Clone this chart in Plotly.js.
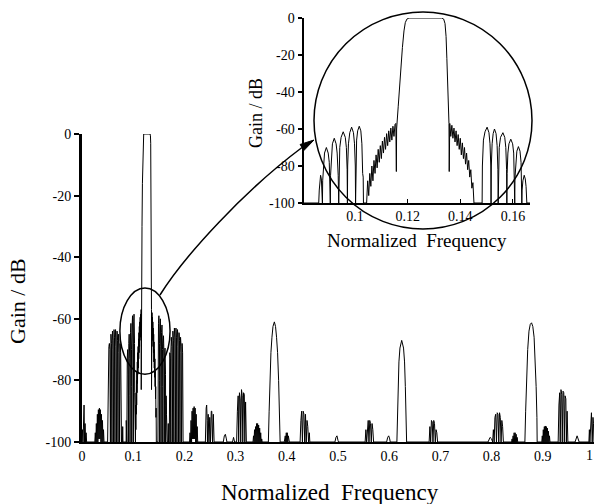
<!DOCTYPE html>
<html>
<head>
<meta charset="utf-8">
<script src="https://cdn.plot.ly/plotly-3.0.1.min.js"></script>
<style>html,body{margin:0;padding:0;background:#fff;}#chart{width:596px;height:504px;}</style>
</head>
<body>
<div id="chart"></div>
<script>
// ---- data: [normalized frequency, gain dB] ----
const lowBand = [
 [0,-100],[0.001,-96],[0.002,-100],[0.003,-93],[0.004,-88],[0.005,-100],[0.006,-94],[0.007,-100],[0.008,-97],[0.009,-100],
 [0.025,-100],[0.026,-97],[0.027,-100],[0.028,-94],[0.029,-100],[0.030,-91],[0.031,-100],[0.032,-89.5],[0.033,-99],[0.034,-89],
 [0.035,-99],[0.036,-89.5],[0.037,-100],[0.038,-91],[0.039,-100],[0.040,-93],[0.041,-100],[0.042,-96],[0.043,-100],
 [0.050,-100],[0.051,-75],[0.0525,-69],[0.0535,-68],[0.0545,-70],[0.0555,-100],[0.0556,-72],[0.0565,-65],[0.0575,-68],[0.0585,-100],
 [0.0586,-70],[0.0595,-64],[0.0605,-67],[0.0614,-100],[0.0615,-70],[0.0625,-63.5],[0.0635,-66],[0.0644,-100],[0.0645,-69],
 [0.0655,-63.5],[0.0665,-66],[0.0674,-100],[0.0675,-70],[0.0685,-64],[0.0695,-67],[0.0704,-100],[0.0705,-71],[0.0715,-65],
 [0.0725,-68],[0.0734,-100],[0.0735,-73],[0.0745,-68],[0.0755,-71],[0.0764,-100],[0.0768,-93],[0.0772,-100],[0.0790,-100],
 [0.0795,-95],[0.0800,-100]
];
const centreBand = [
 [0.0806,-100],[0.0862,-100],[0.0864,-93],[0.0866,-88],[0.0869,-85],[0.0872,-87],[0.0874,-92],[0.0876,-100],
 [0.0877,-88],[0.0880,-78],[0.0884,-73],[0.0891,-70],[0.0898,-73],[0.0902,-78],[0.0905,-88],[0.0906,-100],
 [0.0907,-85],[0.0910,-73],[0.0914,-68],[0.0921,-65],[0.0928,-68],[0.0932,-73],[0.0936,-85],[0.0938,-100],
 [0.0939,-82],[0.0942,-70],[0.0947,-64.5],[0.0955,-61.5],[0.0963,-64.5],[0.0967,-70],[0.0970,-82],[0.0971,-100],
 [0.0972,-80],[0.0975,-68],[0.0980,-62],[0.0987,-59],[0.0994,-62],[0.0998,-68],[0.1001,-80],[0.1002,-100],
 [0.1003,-78],[0.1006,-66],[0.1010,-61],[0.1016,-58.5],[0.1022,-61],[0.1026,-68],[0.1029,-84],[0.1031,-86],[0.1032,-100],
 [0.1044,-100],[0.1048,-88],[0.1052,-96],[0.1056,-84],[0.1060,-91],[0.1064,-80],[0.1068,-88],[0.1072,-77],[0.1076,-84],
 [0.1080,-74],[0.1084,-81],[0.1088,-71],[0.1092,-78],[0.1096,-69],[0.1100,-76],[0.1104,-66.5],[0.1108,-73],[0.1112,-64.5],
 [0.1116,-71],[0.1120,-62.5],[0.1124,-69],[0.1128,-61],[0.1132,-67],[0.1136,-59.5],[0.1140,-66],[0.1144,-58.5],[0.1148,-64],
 [0.1152,-57.5],[0.1155,-57],[0.1157,-83],
 [0.1158,-60],[0.1164,-48],[0.1172,-30],[0.1180,-16],[0.1186,-7],[0.1191,-2.5],[0.1197,-0.6],[0.1205,0],[0.1330,0],
 [0.1337,-0.6],[0.1342,-3],[0.1346,-10],[0.1349,-22],[0.1352,-35],[0.1355,-50],[0.1357,-57],[0.1358,-83],
 [0.1360,-57],[0.1364,-64],[0.1368,-58],[0.1372,-65],[0.1376,-59.5],[0.1380,-67],[0.1384,-61],[0.1388,-69],[0.1392,-63],
 [0.1396,-71],[0.1400,-65],[0.1404,-74],[0.1408,-67.5],[0.1412,-76],[0.1416,-70],[0.1420,-79],[0.1424,-73],[0.1428,-82],
 [0.1432,-77],[0.1436,-86],[0.1440,-82],[0.1444,-92],[0.1448,-89],[0.1452,-100],
 [0.1483,-100],[0.1484,-80],[0.1488,-66],[0.1494,-61.5],[0.1502,-59],[0.1509,-62],[0.1513,-68],[0.1516,-80],[0.1517,-100],
 [0.1518,-80],[0.1521,-68],[0.1525,-62.5],[0.1530,-60],[0.1536,-62.5],[0.1540,-69],[0.1543,-82],[0.1544,-100],
 [0.1545,-82],[0.1548,-70],[0.1553,-64.5],[0.1562,-62],[0.1569,-64.5],[0.1573,-70],[0.1576,-82],[0.1577,-100],
 [0.1578,-84],[0.1581,-73],[0.1585,-68],[0.1592,-65.5],[0.1599,-68],[0.1603,-73],[0.1606,-85],[0.1607,-100],
 [0.1608,-86],[0.1611,-77],[0.1615,-72],[0.1621,-69.5],[0.1627,-72],[0.1631,-78],[0.1633,-88],[0.1634,-100],
 [0.1635,-93],[0.1638,-88],[0.1643,-85],[0.1647,-87],[0.1650,-91],[0.1653,-100],[0.1665,-100]
];
const highBand = [
 [0.168,-100],[0.1685,-94],[0.169,-100],
 [0.1705,-100],[0.1706,-76],[0.1715,-71],[0.1725,-73],[0.1734,-100],[0.1735,-71],[0.1745,-66],[0.1755,-69],[0.1764,-100],
 [0.1765,-69],[0.1775,-64],[0.1785,-67],[0.1794,-100],[0.1795,-68],[0.1805,-63],[0.1815,-66],[0.1824,-100],[0.1825,-68],
 [0.1835,-63],[0.1845,-66],[0.1854,-100],[0.1855,-69],[0.1865,-63.5],[0.1875,-66],[0.1884,-100],[0.1885,-70],[0.1895,-64.5],
 [0.1905,-67],[0.1914,-100],[0.1915,-71],[0.1925,-66],[0.1935,-69],[0.1944,-100],[0.1945,-73],[0.1955,-68],[0.1965,-71],[0.1974,-100],
 [0.210,-100],[0.211,-97],[0.212,-100],[0.213,-93],[0.214,-100],[0.215,-90],[0.216,-99],[0.217,-89],[0.218,-99],[0.219,-88.5],
 [0.220,-99],[0.221,-89],[0.222,-100],[0.223,-91],[0.224,-100],[0.225,-95],[0.226,-100],
 [0.241,-100],[0.2425,-89],[0.2435,-88],[0.2445,-93],[0.245,-100],[0.2465,-91],[0.248,-100],[0.2495,-92],[0.251,-100],
 [0.2525,-90],[0.2535,-90],[0.255,-100],[0.2565,-91],[0.258,-100],
 [0.276,-100],[0.278,-98],[0.280,-97.5],[0.282,-99],[0.283,-100],[0.294,-100],[0.296,-98.5],[0.298,-100],
 [0.302,-100],[0.3035,-90],[0.305,-85],[0.306,-100],[0.3075,-84],[0.309,-86],[0.310,-100],[0.3115,-83],[0.313,-85],[0.314,-100],
 [0.3155,-84],[0.317,-84.5],[0.318,-100],[0.3195,-87],[0.321,-100],
 [0.334,-100],[0.335,-98],[0.336,-100],[0.337,-96],[0.338,-100],[0.339,-95],[0.340,-100],[0.341,-94],[0.342,-100],[0.343,-94],
 [0.344,-100],[0.345,-94.5],[0.346,-100],[0.347,-95.5],[0.348,-100],[0.349,-97],[0.350,-100],[0.351,-99],[0.352,-100],
 [0.364,-100],[0.3655,-90],[0.367,-80],[0.369,-71],[0.371,-66],[0.373,-62.5],[0.3757,-61],[0.378,-62.5],[0.380,-66],[0.382,-71],
 [0.384,-80],[0.3855,-90],[0.387,-100],
 [0.395,-100],[0.397,-98],[0.398,-100],[0.399,-97],[0.400,-100],[0.401,-97],[0.402,-100],[0.403,-98],[0.405,-100],
 [0.426,-100],[0.4275,-93],[0.429,-90],[0.4305,-100],[0.432,-90],[0.4335,-91],[0.435,-100],[0.4365,-91],[0.438,-100],
 [0.4395,-93],[0.441,-95],[0.4425,-100],[0.444,-97],[0.445,-100],
 [0.494,-100],[0.496,-98.5],[0.498,-98],[0.500,-99.5],[0.501,-100],
 [0.553,-100],[0.5545,-96],[0.556,-100],[0.5575,-94],[0.559,-93],[0.5605,-100],[0.562,-93],[0.5635,-94],[0.565,-100],
 [0.5665,-94],[0.568,-96],[0.5695,-100],
 [0.595,-100],[0.597,-98.5],[0.599,-98],[0.601,-99],[0.602,-100],
 [0.615,-100],[0.6165,-90],[0.6175,-82],[0.619,-74],[0.621,-69.5],[0.6244,-67],[0.628,-69.5],[0.630,-74],[0.6315,-82],
 [0.6325,-90],[0.634,-100],
 [0.678,-100],[0.6795,-95],[0.681,-100],[0.6825,-93],[0.684,-93.5],[0.6855,-100],[0.687,-93],[0.6885,-94],[0.690,-100],
 [0.6915,-96],[0.693,-97],[0.6945,-100],
 [0.793,-100],[0.795,-99],[0.797,-98.5],[0.800,-99],[0.802,-100],
 [0.8035,-96],[0.805,-100],[0.8065,-92],[0.808,-91],[0.8095,-100],[0.811,-90.5],[0.8125,-91],[0.814,-100],[0.8155,-90.5],
 [0.817,-92],[0.8185,-100],[0.820,-93],[0.8215,-95],[0.823,-100],
 [0.839,-100],[0.840,-99],[0.841,-100],[0.842,-98],[0.843,-100],[0.844,-97],[0.845,-100],[0.846,-97],[0.847,-100],
 [0.848,-97.5],[0.849,-100],[0.850,-98.5],[0.851,-100],
 [0.865,-100],[0.8665,-90],[0.868,-80],[0.8705,-70],[0.873,-64],[0.8755,-61.8],[0.878,-61.3],[0.8805,-62.5],[0.883,-66],
 [0.8855,-74],[0.887,-82],[0.8885,-92],[0.889,-100],
 [0.898,-100],[0.899,-98],[0.900,-100],[0.901,-96],[0.902,-100],[0.903,-95],[0.904,-100],[0.905,-94.8],[0.906,-100],
 [0.907,-95],[0.908,-100],[0.909,-95.5],[0.910,-100],[0.911,-96.5],[0.912,-100],[0.913,-98],[0.914,-100],
 [0.930,-100],[0.9315,-88],[0.933,-84],[0.934,-100],[0.9355,-83],[0.937,-84.5],[0.938,-100],[0.9395,-83.5],[0.941,-84],
 [0.942,-100],[0.9435,-85],[0.945,-86],[0.946,-100],[0.9475,-90],[0.949,-100],
 [0.963,-100],[0.965,-98.5],[0.967,-98],[0.969,-99],[0.971,-100],
 [0.990,-100],[0.991,-96],[0.992,-100],[0.9935,-91],[0.995,-90.5],[0.9965,-100],[0.998,-92],[0.999,-94],[1.0,-100]
];
const mainXTicks = [0,0.1,0.2,0.3,0.4,0.5,0.6,0.7,0.8,0.9];
const mainXTickText = ['0','0.1','0.2','0.3','0.4','0.5','0.6','0.7','0.8','0.9'];
const lastXTickText = '1';
const gainTicks = [0,-20,-40,-60,-80,-100];
const gainTickText = ['0','-20','-40','-60','-80','-100'];
const insetXTicks = [0.1,0.12,0.14,0.16];
const insetXTickText = ['0.1','0.12','0.14','0.16'];
const xTitle = 'Normalized\u00a0\u00a0Frequency';
const yTitle = 'Gain / dB';

// ---- figure geometry (pixels) ----
const W = 596, H = 504, ML = 82, MR = 2, MT = 10, MB = 62;
const PW = W - ML - MR, PH = H - MT - MB;
const fx = px => (px - ML) / PW;           // pixel x -> paper x
const fy = py => (H - MB - py) / PH;       // pixel y -> paper y
const pathPx = pts => pts.map(s => typeof s === 'string' ? s : fx(s[0]).toFixed(4) + ',' + fy(s[1]).toFixed(4)).join(' ');

const allBand = lowBand.concat(centreBand, highBand);
const FONT = '"Liberation Serif", "Times New Roman", "DejaVu Serif", serif';

const traces = [
 {x: allBand.map(p => p[0]), y: allBand.map(p => p[1]), xaxis: 'x', yaxis: 'y', type: 'scatter', mode: 'lines',
  line: {color: '#000', width: 1}, hoverinfo: 'skip'},
 {x: centreBand.map(p => p[0]), y: centreBand.map(p => p[1]), xaxis: 'x2', yaxis: 'y2', type: 'scatter', mode: 'lines',
  line: {color: '#000', width: 1}, hoverinfo: 'skip'}
];

const axisCommon = {showgrid: false, zeroline: false, showline: true, linecolor: '#000', color: '#000', fixedrange: true};

const layout = {
 width: W, height: H,
 margin: {l: ML, r: MR, t: MT, b: MB, pad: 0},
 paper_bgcolor: '#fff', plot_bgcolor: 'rgba(0,0,0,0)',
 showlegend: false,
 font: {family: FONT, color: '#000'},
 xaxis: Object.assign({}, axisCommon, {domain: [0, 1], range: [0, 1], anchor: 'y', tickvals: mainXTicks, ticktext: mainXTickText,
   ticks: '', linewidth: 2, tickfont: {size: 14, family: FONT}}),
 yaxis: Object.assign({}, axisCommon, {domain: [0, fy(134)], range: [-100, 0], anchor: 'x', tickvals: gainTicks, ticktext: gainTickText,
   ticks: 'outside', ticklen: 5, tickwidth: 2, tickcolor: '#000', linewidth: 3, tickfont: {size: 14, family: FONT}}),
 xaxis2: Object.assign({}, axisCommon, {domain: [fx(304), fx(530)], range: [0.0806, 0.1665], anchor: 'y2', tickvals: insetXTicks,
   ticktext: insetXTickText, ticks: 'inside', ticklen: 4, tickwidth: 1, tickcolor: '#000', linewidth: 1.5, tickfont: {size: 14, family: FONT}}),
 yaxis2: Object.assign({}, axisCommon, {domain: [fy(203), fy(18)], range: [-100, 0], anchor: 'x2', tickvals: gainTicks,
   ticktext: gainTickText, ticks: 'outside', ticklen: 4, tickwidth: 2, tickcolor: '#000', linewidth: 2.5, tickfont: {size: 14, family: FONT}}),
 shapes: [
  {type: 'circle', xref: 'paper', yref: 'paper', x0: fx(314), x1: fx(532), y0: fy(229), y1: fy(12),
   line: {color: '#000', width: 1.5}, fillcolor: 'rgba(0,0,0,0)', layer: 'above'},
  {type: 'circle', xref: 'x', yref: 'y', x0: 0.074, x1: 0.172, y0: -78, y1: -50,
   line: {color: '#000', width: 1.5}, fillcolor: 'rgba(0,0,0,0)', layer: 'above'},
  {type: 'path', xref: 'paper', yref: 'paper', layer: 'above',
   path: pathPx(['M', [160, 295], 'C', [185, 255], [245, 190], [302, 147.5]]),
   line: {color: '#000', width: 1.5}},
  {type: 'path', xref: 'paper', yref: 'paper', layer: 'above',
   path: pathPx(['M', [314, 140], 'L', [303.9, 150.5], 'L', [300.1, 144.5], 'Z']),
   line: {color: '#000', width: 1}, fillcolor: '#000'}
 ],
 annotations: [
  {text: lastXTickText, xref: 'paper', yref: 'paper', x: fx(595), y: fy(446), xanchor: 'right', yanchor: 'top',
   showarrow: false, font: {size: 14, family: FONT, color: '#000'}},
  {text: xTitle, xref: 'paper', yref: 'paper', x: fx(330), y: fy(492), xanchor: 'center', yanchor: 'middle',
   showarrow: false, font: {size: 23, family: FONT, color: '#000'}},
  {text: yTitle, xref: 'paper', yref: 'paper', x: fx(17), y: fy(301), xanchor: 'center', yanchor: 'middle', textangle: -90,
   showarrow: false, font: {size: 22, family: FONT, color: '#000'}},
  {text: xTitle, xref: 'paper', yref: 'paper', x: fx(417), y: fy(240), xanchor: 'center', yanchor: 'middle',
   showarrow: false, font: {size: 19, family: FONT, color: '#000'}},
  {text: yTitle, xref: 'paper', yref: 'paper', x: fx(256), y: fy(113), xanchor: 'center', yanchor: 'middle', textangle: -90,
   showarrow: false, font: {size: 18, family: FONT, color: '#000'}}
 ]
};

Plotly.newPlot('chart', traces, layout, {staticPlot: true, displayModeBar: false});
</script>
</body>
</html>
